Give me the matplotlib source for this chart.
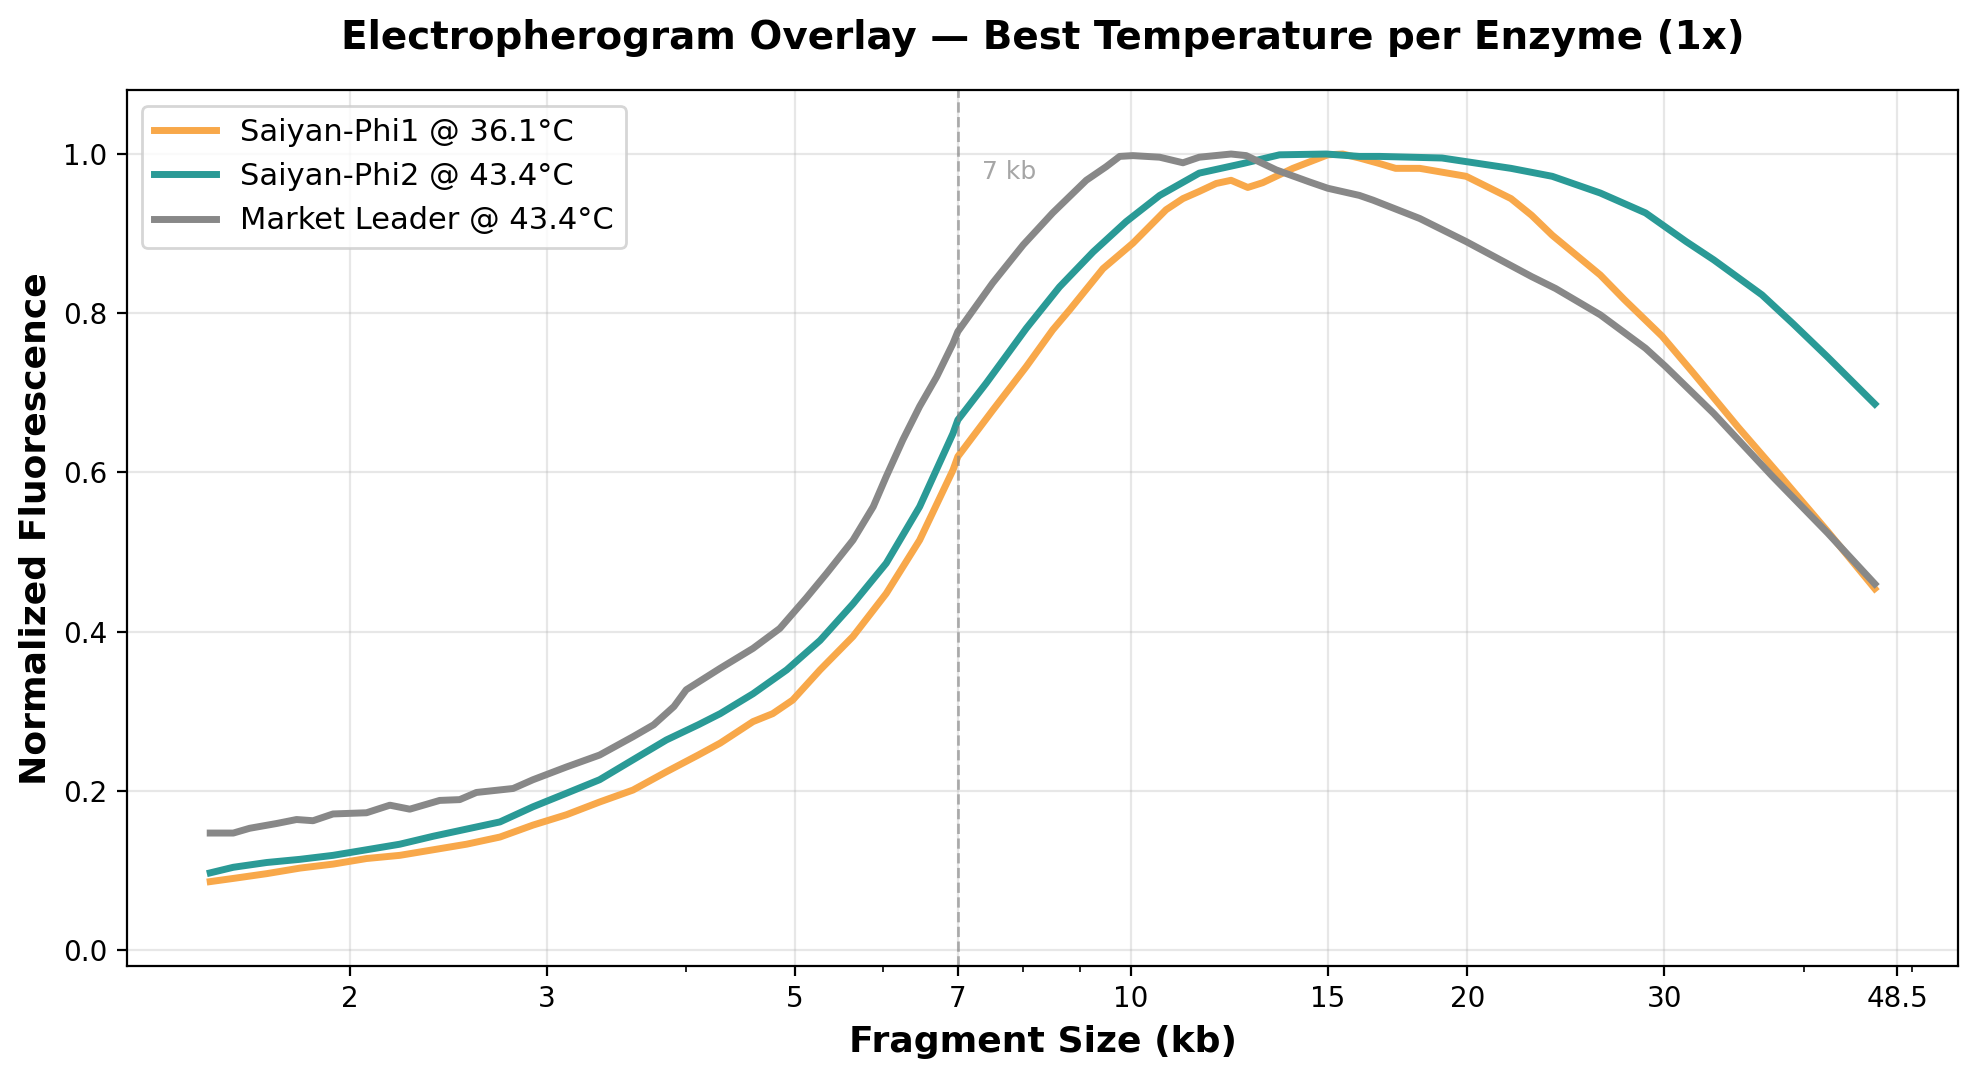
import numpy as np
import matplotlib
matplotlib.use('Agg')
import matplotlib.pyplot as plt
from matplotlib.ticker import NullFormatter, FixedLocator, FixedFormatter

# Saiyan-Phi1 @ 36.1°C
phi1_kb = [1.5, 1.573, 1.685, 1.805, 1.932, 2.07, 2.217, 2.375, 2.544, 2.725, 2.917, 3.125,
           3.346, 3.584, 3.84, 4.1, 4.29, 4.59, 4.78, 4.98, 5.27, 5.64, 6.04, 6.47, 6.93, 7.0,
           7.52, 8.06, 8.51, 8.81, 9.44, 10.04, 10.75, 11.13, 11.51, 11.92, 12.29, 12.72, 13.12,
           13.96, 15.0, 15.47, 16.01, 16.69, 17.25, 18.13, 19.95, 21.88, 22.83, 23.82, 26.3,
           27.64, 29.88, 31.85, 34.93, 38.04, 42.01, 46.3]
phi1_fl = [0.086, 0.090, 0.096, 0.103, 0.108, 0.115, 0.119, 0.126, 0.133, 0.142, 0.157, 0.170,
           0.186, 0.201, 0.224, 0.245, 0.260, 0.287, 0.297, 0.314, 0.352, 0.394, 0.448, 0.515,
           0.603, 0.620, 0.678, 0.733, 0.779, 0.804, 0.856, 0.888, 0.930, 0.944, 0.953, 0.963,
           0.967, 0.958, 0.964, 0.982, 0.999, 1.000, 0.995, 0.988, 0.982, 0.982, 0.972, 0.944,
           0.923, 0.898, 0.848, 0.817, 0.771, 0.725, 0.657, 0.597, 0.526, 0.454]

# Saiyan-Phi2 @ 43.4°C
phi2_kb = [1.5, 1.573, 1.685, 1.805, 1.932, 2.07, 2.217, 2.375, 2.544, 2.725, 2.917, 3.125,
           3.346, 3.584, 3.84, 4.1, 4.29, 4.59, 4.92, 5.27, 5.64, 6.04, 6.47, 6.93, 7.0, 7.42,
           8.06, 8.63, 9.25, 9.9, 10.61, 11.51, 12.59, 13.58, 14.95, 16.01, 16.69, 18.98, 21.88,
           23.82, 26.3, 28.87, 31.39, 33.23, 36.7, 39.11, 42.01, 46.3]
phi2_fl = [0.097, 0.104, 0.110, 0.114, 0.119, 0.126, 0.133, 0.143, 0.152, 0.161, 0.180, 0.197,
           0.214, 0.239, 0.264, 0.283, 0.297, 0.322, 0.352, 0.389, 0.435, 0.486, 0.557, 0.649,
           0.666, 0.712, 0.781, 0.833, 0.877, 0.915, 0.948, 0.976, 0.988, 0.999, 1.000, 0.997,
           0.997, 0.995, 0.982, 0.972, 0.951, 0.926, 0.890, 0.867, 0.823, 0.787, 0.745, 0.686]

# Market Leader @ 43.4°C
leader_kb = [1.5, 1.573, 1.627, 1.72, 1.792, 1.854, 1.932, 2.07, 2.172, 2.263, 2.407, 2.508,
             2.596, 2.8, 2.917, 3.125, 3.346, 3.584, 3.74, 3.9, 4.0, 4.29, 4.59, 4.85, 5.12,
             5.34, 5.64, 5.88, 6.04, 6.25, 6.47, 6.7, 6.93, 7.0, 7.52, 8.01, 8.51, 9.12, 9.5,
             9.77, 10.04, 10.61, 11.13, 11.51, 12.29, 12.68, 13.49, 14.44, 15.0, 16.01, 16.47,
             18.13, 19.95, 22.83, 23.99, 26.3, 28.87, 30.09, 33.23, 37.5, 42.01, 46.3]
leader_fl = [0.147, 0.147, 0.153, 0.159, 0.164, 0.1625, 0.171, 0.1725, 0.182, 0.177, 0.188,
             0.189, 0.198, 0.203, 0.214, 0.230, 0.245, 0.268, 0.283, 0.306, 0.327, 0.354, 0.379,
             0.404, 0.442, 0.473, 0.515, 0.557, 0.595, 0.641, 0.683, 0.720, 0.762, 0.777, 0.838,
             0.886, 0.926, 0.967, 0.984, 0.997, 0.998, 0.996, 0.989, 0.996, 1.000, 0.998, 0.980,
             0.965, 0.957, 0.948, 0.942, 0.919, 0.890, 0.846, 0.831, 0.798, 0.756, 0.733, 0.674,
             0.595, 0.524, 0.460]

tick_kb = [2, 3, 5, 7, 10, 15, 20, 30, 48.5]
tick_lbl = ['2', '3', '5', '7', '10', '15', '20', '30', '48.5']

fig = plt.figure(figsize=(9.89, 5.39), dpi=200)
ax = fig.add_subplot(111)
fig.subplots_adjust(left=0.0642, right=0.9899, bottom=0.1039, top=0.9162)

ax.plot(phi1_kb, phi1_fl, color='#F8A84A', lw=2.5, label='Saiyan-Phi1 @ 36.1°C')
ax.plot(phi2_kb, phi2_fl, color='#2A9A96', lw=2.5, label='Saiyan-Phi2 @ 43.4°C')
ax.plot(leader_kb, leader_fl, color='#888888', lw=2.5, label='Market Leader @ 43.4°C')

ax.set_xscale('log')
ax.axvline(7, color='gray', ls='--', lw=1, alpha=0.6)
ax.text(7 * 1.05, 0.978, '7 kb', color='gray', alpha=0.7, fontsize=9, va='center', ha='left')

ax.xaxis.set_major_locator(FixedLocator(tick_kb))
ax.xaxis.set_major_formatter(FixedFormatter(tick_lbl))
ax.xaxis.set_minor_formatter(NullFormatter())
ax.set_ylim(-0.02, 1.08)

ax.set_xlabel('Fragment Size (kb)', fontsize=13, fontweight='bold')
ax.set_ylabel('Normalized Fluorescence', fontsize=13, fontweight='bold')
ax.set_title('Electropherogram Overlay — Best Temperature per Enzyme (1x)',
             fontsize=14, fontweight='bold', pad=15)
ax.grid(True, alpha=0.3)
ax.legend(loc='upper left', fontsize=11)

fig.savefig('out.png', dpi=200)
